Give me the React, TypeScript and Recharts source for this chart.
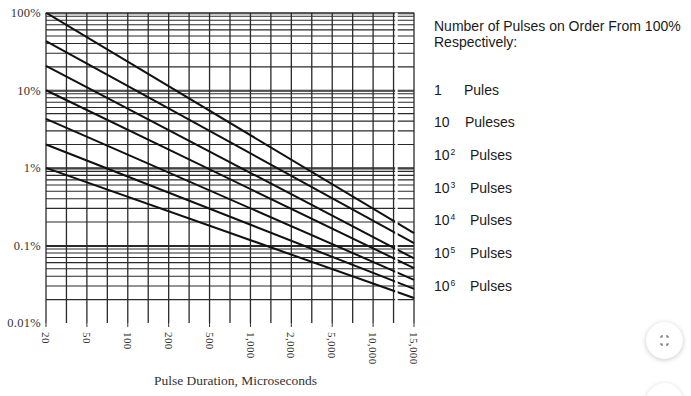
import React from "react";
import { LineChart, Line, XAxis, YAxis, ReferenceLine } from "recharts";

// Category labels on the x axis (equally spaced in the original drawing)
const xCategories = ["20", "50", "100", "200", "500", "1,000", "2,000", "5,000", "10,000", "15,000"];
// Values (%) at the left edge (20 µs) for each curve
const startValues = [100, 43, 20.6, 10, 4.27, 2, 1];
// Values (%) at the right edge (15,000 µs) for each curve
const endValues = [0.144, 0.107, 0.068, 0.051, 0.036, 0.0275, 0.021];
// Series names
const seriesNames = ["1 Pulse", "10 Pulses", "10^2 Pulses", "10^3 Pulses", "10^4 Pulses", "10^5 Pulses", "10^6 Pulses"];
// Y axis ticks (%)
const yTickValues = [0.01, 0.1, 1, 10, 100];
// Minor grid multipliers inside each decade
const minorMultipliers = [2, 3, 4, 5, 6, 7, 8, 9, 9.7];
const gridDecades = [0.01, 0.1, 1, 10];
// Legend entries
const legendNumbers = ["1", "10", "10", "10", "10", "10", "10"];
const legendSup = ["", "", "2", "3", "4", "5", "6"];
const legendWords = ["Pules", "Puleses", "Pulses", "Pulses", "Pulses", "Pulses", "Pulses"];

const lastIndex = xCategories.length - 1;
const data = [0, lastIndex].map((xi) => {
  const row: Record<string, number> = { x: xi };
  seriesNames.forEach((_, i) => {
    row["s" + i] = xi === 0 ? startValues[i] : endValues[i];
  });
  return row;
});

const horizontalGrid: number[] = [];
gridDecades.forEach((d) => {
  minorMultipliers.forEach((m) => horizontalGrid.push(+(d * m).toPrecision(6)));
  horizontalGrid.push(d * 10);
});
const verticalGrid: number[] = [];
for (let i = 0; i <= lastIndex * 2; i++) verticalGrid.push(i / 2);
const breakPosition = 8.57;

const serif = "'Liberation Serif', 'DejaVu Serif', serif";
const sans = "'Liberation Sans', Arial, sans-serif";

const XTick = (props: any) => {
  const { x, y, payload } = props;
  return (
    <g transform={`translate(${x},${y}) rotate(90)`}>
      <text x={0} y={0} dy="0.35em" textAnchor="start" fontFamily={serif} fontSize={11} letterSpacing={0.4} fill="#333">
        {xCategories[payload.value]}
      </text>
    </g>
  );
};

const legendBase = [95, 127.3, 160, 193.3, 225, 258.3, 291];
const legendWordX = [464, 465, 470, 470, 470, 470, 470];

export default function App() {
  return (
    <div style={{ position: "absolute", left: 0, top: 0, width: 691, height: 396, background: "#fff", overflow: "hidden" }}>
      <LineChart width={691} height={396} data={data} margin={{ top: 12.7, right: 277, bottom: 13, left: 0 }}>
        <XAxis
          dataKey="x"
          type="number"
          domain={[0, lastIndex]}
          ticks={xCategories.map((_, i) => i)}
          axisLine={false}
          tickLine={{ stroke: "#333" }}
          tickSize={4}
          tickMargin={5}
          height={60}
          tick={<XTick />}
          interval={0}
        />
        <YAxis
          type="number"
          scale="log"
          domain={[0.01, 100]}
          ticks={yTickValues}
          allowDataOverflow
          axisLine={false}
          tickLine={false}
          tickSize={3}
          tickMargin={2}
          width={46}
          tickFormatter={(v: number) => `${v}%`}
          tick={{ fontFamily: serif, fontSize: 12.5, fill: "#333", letterSpacing: 0.3 }}
          interval={0}
        />
        {horizontalGrid.map((v) => (
          <ReferenceLine key={"h" + v} y={v} stroke="#2a2a2a" strokeWidth={1.1} />
        ))}
        {verticalGrid.map((v) => (
          <ReferenceLine key={"v" + v} x={v} stroke="#2a2a2a" strokeWidth={1.3} />
        ))}
        {seriesNames.map((name, i) => (
          <Line
            key={name}
            name={name}
            dataKey={"s" + i}
            type="linear"
            stroke="#111"
            strokeWidth={2}
            dot={false}
            activeDot={false}
            isAnimationActive={false}
          />
        ))}
        <ReferenceLine x={breakPosition} stroke="#fff" strokeWidth={2.5} zIndex={1000} />
      </LineChart>

      <div style={{ position: "absolute", left: 0, width: 471, top: 373, textAlign: "center", fontFamily: serif, fontSize: 13.5, lineHeight: "16px", color: "#333" }}>
        Pulse Duration, Microseconds
      </div>

      <div style={{ position: "absolute", left: 434, top: 17.8, fontFamily: sans, fontSize: 14, lineHeight: "16px", color: "#1a1a1a", whiteSpace: "nowrap" }}>
        Number of Pulses on Order From 100%
        <br />
        Respectively:
      </div>

      {legendNumbers.map((n, i) => (
        <div key={"lg" + i} style={{ position: "absolute", left: 0, top: legendBase[i] - 12.9, width: 691, height: 16, fontFamily: sans, fontSize: 14, lineHeight: "16px", color: "#1a1a1a", whiteSpace: "nowrap" }}>
          <span style={{ position: "absolute", left: 434 }}>
            {n}
            {legendSup[i] ? <span style={{ fontSize: 8.5, position: "relative", top: -5, marginLeft: 1 }}>{legendSup[i]}</span> : null}
          </span>
          <span style={{ position: "absolute", left: legendWordX[i] }}>{legendWords[i]}</span>
        </div>
      ))}

      <div style={{ position: "absolute", left: 646, top: 322, width: 37, height: 37, borderRadius: "50%", background: "#fff", boxShadow: "0 1px 5px rgba(0,0,0,0.22)" }}>
        <svg width={37} height={37} style={{ position: "absolute", left: 0, top: 0 }}>
          <polyline points="14,15 16,15 16,13" fill="none" stroke="#666" strokeWidth={1.2} />
          <polyline points="21,13 21,15 23,15" fill="none" stroke="#666" strokeWidth={1.2} />
          <polyline points="14,22 16,22 16,24" fill="none" stroke="#666" strokeWidth={1.2} />
          <polyline points="21,24 21,22 23,22" fill="none" stroke="#666" strokeWidth={1.2} />
        </svg>
      </div>
      <div style={{ position: "absolute", left: 646, top: 383, width: 37, height: 37, borderRadius: "50%", background: "#fff", boxShadow: "0 1px 5px rgba(0,0,0,0.18)" }} />
    </div>
  );
}
